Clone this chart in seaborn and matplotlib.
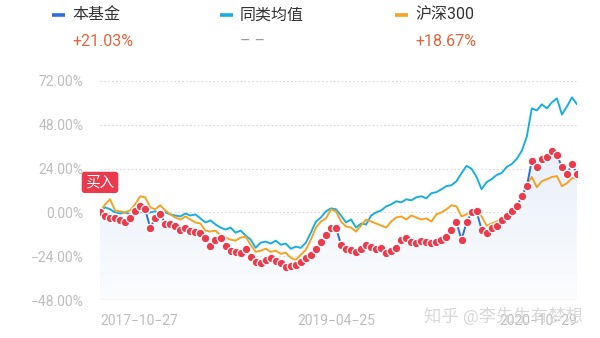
import numpy as np
import pandas as pd
import matplotlib
matplotlib.use("Agg")
import matplotlib.pyplot as plt
import seaborn as sns
from matplotlib.lines import Line2D
from matplotlib.patches import Polygon

# ---------------- data ----------------
start_date = "2017-10-27"
end_date = "2020-10-29"
n_points = 96
tick_labels = ["2017-10-27", "2019-04-25", "2020-10-29"]
y_ticks = [-48, -24, 0, 24, 48, 72]

series_names = ["本基金", "同类均值", "沪深300"]
series_returns = ["+21.03%", "– –", "+18.67%"]

fund = [0, -1.7, -2.8, -3.3, -4.4, -5.0, -2.8, 0.6, 3.3, 1.7,
        -8.3, -3.3, -1.1, -6.1, -6.6, -7.2, -9.4, -8.3, -10.0, -10.5,
        -11.1, -13.8, -18.2, -14.9, -13.8, -18.2, -21.0, -21.6, -22.1, -19.9,
        -24.3, -27.1, -27.7, -26.0, -24.9, -26.5, -27.7, -29.9, -29.3, -28.8,
        -27.1, -24.9, -23.2, -19.9, -16.0, -12.2, -8.3, -8.3, -17.7, -19.9,
        -20.5, -21.6, -19.9, -17.7, -18.8, -19.9, -19.4, -22.1, -21.0, -19.4,
        -14.9, -13.8, -16.0, -16.6, -15.5, -16.0, -16.6, -16.0, -14.9, -13.3,
        -9.4, -5.5, -14.9, -5.5, 0, 0.6, -9.4, -11.1, -8.8, -7.7,
        -4.4, -2.2, 0.6, 3.3, 8.8, 14.4, 28.2, 24.9, 29.3, 30.4,
        33.7, 31.5, 24.9, 21.0, 26.5, 21.03]

peer_avg = [0, 2.8, 1.7, 0, -0.6, 0, -1.1, -0.6, 0.6, -0.6,
            0, 0.6, -0.6, 0, -1.1, -1.7, -2.2, -0.6, -1.7, -1.1,
            -3.3, -5.5, -4.4, -6.6, -8.3, -9.4, -8.3, -11.1, -10.0, -12.7,
            -14.9, -19.4, -16.6, -16.0, -17.1, -15.5, -17.7, -17.1, -19.9, -18.8,
            -19.4, -16.6, -11.1, -5.0, -2.8, 0.6, 2.2, 1.7, -1.7, -5.5,
            -3.9, -8.3, -6.1, -6.6, -1.7, 0, 1.1, 3.3, 4.4, 6.1,
            5.5, 7.2, 6.6, 8.3, 8.8, 7.7, 10.5, 11.1, 12.7, 14.4,
            14.9, 17.1, 21.5, 25.5, 23.9, 19.4, 12.7, 16.6, 18.2, 20.5,
            21.6, 24.9, 26.5, 29.3, 33.7, 41.5, 57.0, 55.9, 59.2, 57.0,
            60.3, 62.5, 53.6, 58.1, 63.0, 59.2]

csi300 = [0, 4.4, 7.2, 1.1, 0.6, 0, 1.1, 4.4, 8.8, 8.3,
          2.8, 1.7, 3.9, 1.1, -1.1, -2.8, -3.9, -2.2, -3.9, -5.5,
          -6.1, -10.0, -10.5, -10.0, -12.7, -13.8, -14.9, -15.5, -13.8, -13.3,
          -17.7, -21.6, -21.0, -19.9, -21.6, -21.0, -22.7, -22.1, -24.9, -26.0,
          -23.2, -20.5, -14.9, -8.3, -5.0, -3.3, 1.7, 0.6, -5.0, -7.7,
          -8.3, -10.5, -7.2, -3.9, -5.0, -6.1, -7.2, -8.3, -5.0, -2.8,
          -2.2, -3.9, -1.7, -2.8, -3.9, -3.3, -5.0, -1.1, 0, 1.7,
          3.9, 3.3, -2.2, -1.1, 1.1, 2.2, -2.2, -7.2, -6.1, -5.0,
          -2.8, -1.7, 0.6, 3.9, 8.3, 15.5, 19.4, 13.8, 17.1, 18.2,
          19.4, 19.9, 14.4, 16.0, 18.8, 18.67]

# ---------------- styling ----------------
sns.set_style("white")
plt.rcParams["font.family"] = ["Roboto", "Noto Sans CJK SC", "DejaVu Sans"]

c_fund = "#2b6fd8"
c_peer = "#1aaee0"
c_csi = "#f2a323"
c_dot = "#ea3a4c"
c_grid = "#d9d9d9"
c_tick = "#bdbdbd"

dates = pd.date_range(start_date, end_date, periods=n_points)
df = pd.DataFrame({"date": dates, "fund": fund, "peer": peer_avg, "csi": csi300})

fig = plt.figure(figsize=(6.0, 3.38), dpi=100)
ax = fig.add_axes([100 / 600, 1 - 300 / 338, 477 / 600, 219 / 338])

ymin, ymax = -48, 72

# gradient fill under the fund line
xnum = matplotlib.dates.date2num(df["date"])
grad = np.linspace(0, 1, 256).reshape(-1, 1)
cmap = matplotlib.colors.LinearSegmentedColormap.from_list(
    "g", ["#fbfcfe", "#e9f0fb"])
im = ax.imshow(grad, extent=[xnum[0], xnum[-1], ymin, max(fund)], origin="lower",
               aspect="auto", cmap=cmap, zorder=1)
verts = [(xnum[0], ymin)] + list(zip(xnum, df["fund"])) + [(xnum[-1], ymin)]
poly = Polygon(verts, closed=True, facecolor="none", edgecolor="none")
ax.add_patch(poly)
im.set_clip_path(poly)

# grid lines
for yv in y_ticks[1:]:
    ax.axhline(yv, color=c_grid, lw=0.8, ls=(0, (1.5, 2)), zorder=0.5)
ax.axhline(ymin, color="#dcdcdc", lw=1.0, zorder=2)

sns.lineplot(data=df, x="date", y="peer", ax=ax, color=c_peer, lw=1.4, zorder=3)
sns.lineplot(data=df, x="date", y="csi", ax=ax, color=c_csi, lw=1.4, zorder=3)
sns.lineplot(data=df, x="date", y="fund", ax=ax, color=c_fund, lw=1.4, zorder=4)
sns.scatterplot(data=df, x="date", y="fund", ax=ax, color=c_dot, s=38,
                edgecolor="white", linewidth=0.9, zorder=5)

ax.set_xlim(dates[0], dates[-1])
ax.set_ylim(ymin, ymax)
ax.set_yticks(y_ticks)
ax.set_yticklabels([f"{v:.2f}%".replace("-", "\u2212") for v in y_ticks])
tick_dates = pd.to_datetime(tick_labels)
ax.set_xticks(tick_dates)
ax.set_xticklabels([t.replace("-", "\u2212") for t in tick_labels])
for lbl, ha in zip(ax.get_xticklabels(), ["left", "center", "right"]):
    lbl.set_ha(ha)
ax.tick_params(axis="both", length=0, colors=c_tick, labelsize=10)
ax.tick_params(axis="y", pad=12)
ax.tick_params(axis="x", pad=10)
ax.set_xlabel("")
ax.set_ylabel("")
for s in ax.spines.values():
    s.set_visible(False)

# buy marker
ax.annotate("买入", xy=(dates[0], fund[0]), xytext=(0, 30), textcoords="offset pixels",
            ha="center", va="center", color="white", fontsize=10.5,
            bbox=dict(boxstyle="round,pad=0.25,rounding_size=0.2", fc=c_dot, ec="none"),
            zorder=10, annotation_clip=False)

# legend header
leg_x = [52, 220, 395]
colors = [c_fund, c_peer, c_csi]
ret_colors = ["#e2643c", "#9a9a9a", "#e2643c"]
for xpx, name, ret, col, rc in zip(leg_x, series_names, series_returns, colors, ret_colors):
    fig.add_artist(Line2D([xpx / 600, (xpx + 13) / 600], [1 - 15 / 338] * 2,
                          color=col, lw=2.6, solid_capstyle="butt"))
    fig.text((xpx + 20) / 600, 1 - 15 / 338, name, fontsize=11.5, color="#333333",
             va="center", ha="left")
    fig.text((xpx + 20) / 600, 1 - 41 / 338, ret, fontsize=11.5, color=rc,
             va="center", ha="left")

# watermark
fig.text(583 / 600, 1 - 316 / 338, "知乎 @李先生有梦想", fontsize=12.5, color="#d6d6d6",
         ha="right", va="center", alpha=0.95)

fig.savefig("out.png", dpi=100)
